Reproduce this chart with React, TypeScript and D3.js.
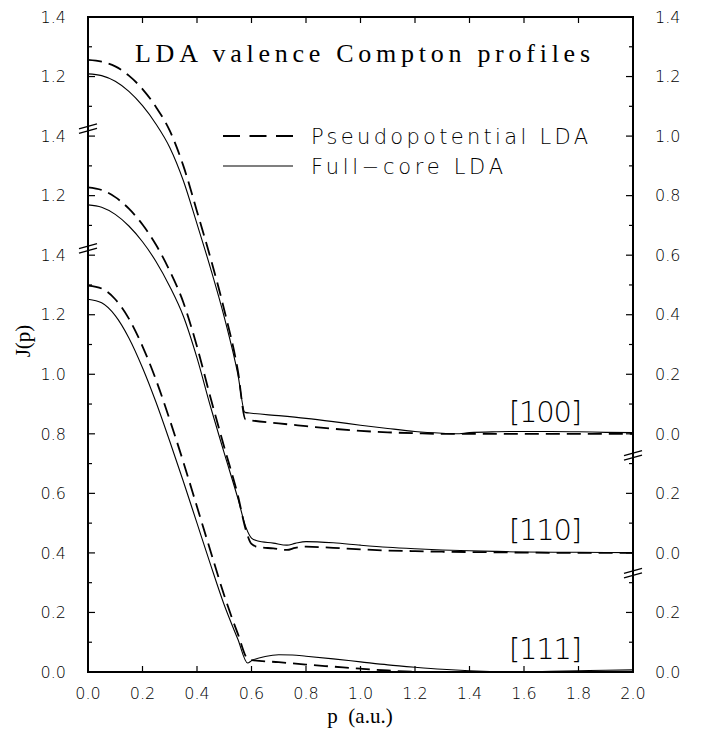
import React from 'react';
import * as d3 from 'd3';

// ---------------- data ----------------
// momentum grid + J(p) values for each direction; "Full" = full-core LDA (solid), "Pseudo" = pseudopotential LDA (dashed)
const pFull100 = [0, 0.05, 0.1, 0.15, 0.2, 0.25, 0.3, 0.35, 0.4, 0.45, 0.5, 0.55, 0.576, 0.6, 0.7, 0.8, 0.9, 1.0, 1.1, 1.2, 1.3, 1.35, 1.4, 1.5, 1.6, 1.7, 1.8, 1.9, 2.0];
const jFull100 = [1.209, 1.203, 1.184, 1.150, 1.102, 1.040, 0.962, 0.850, 0.705, 0.555, 0.392, 0.200, 0.072, 0.069, 0.061, 0.052, 0.041, 0.029, 0.018, 0.008, 0.002, 0.000, 0.004, 0.007, 0.008, 0.008, 0.007, 0.005, 0.004];
const pPseudo100 = [0, 0.05, 0.1, 0.15, 0.2, 0.25, 0.3, 0.35, 0.4, 0.45, 0.5, 0.55, 0.578, 0.6, 0.7, 0.8, 0.9, 1.0, 1.1, 1.2, 1.3, 1.4, 1.6, 1.8, 2.0];
const jPseudo100 = [1.256, 1.250, 1.234, 1.203, 1.158, 1.097, 1.018, 0.900, 0.747, 0.589, 0.416, 0.212, 0.048, 0.045, 0.035, 0.026, 0.017, 0.010, 0.005, 0.002, 0.000, 0.000, 0.000, 0.000, 0.000];

const pFull110 = [0, 0.05, 0.1, 0.15, 0.2, 0.25, 0.3, 0.35, 0.4, 0.45, 0.5, 0.55, 0.58, 0.6, 0.62, 0.68, 0.73, 0.76, 0.8, 0.9, 1.0, 1.1, 1.2, 1.3, 1.4, 1.5, 1.6, 1.8, 2.0];
const jFull110 = [1.169, 1.161, 1.137, 1.098, 1.045, 0.978, 0.895, 0.795, 0.655, 0.490, 0.335, 0.183, 0.085, 0.050, 0.041, 0.033, 0.026, 0.032, 0.038, 0.034, 0.026, 0.019, 0.014, 0.010, 0.007, 0.005, 0.003, 0.002, 0.001];
const pPseudo110 = [0, 0.05, 0.1, 0.15, 0.2, 0.25, 0.3, 0.35, 0.4, 0.45, 0.5, 0.55, 0.58, 0.6, 0.62, 0.68, 0.73, 0.76, 0.8, 0.9, 1.0, 1.1, 1.2, 1.3, 1.4, 1.5, 1.6, 1.8, 2.0];
const jPseudo110 = [1.228, 1.219, 1.195, 1.156, 1.103, 1.034, 0.947, 0.841, 0.693, 0.520, 0.355, 0.193, 0.075, 0.030, 0.021, 0.015, 0.010, 0.017, 0.021, 0.017, 0.012, 0.008, 0.006, 0.004, 0.003, 0.002, 0.001, 0.000, 0.000];

const pFull111 = [0, 0.05, 0.1, 0.15, 0.2, 0.25, 0.3, 0.35, 0.4, 0.45, 0.5, 0.55, 0.586, 0.6, 0.65, 0.7, 0.75, 0.8, 0.9, 1.0, 1.1, 1.2, 1.3, 1.4, 1.5, 1.6, 1.7, 1.8, 1.9, 2.0];
const jFull111 = [1.252, 1.240, 1.197, 1.122, 1.022, 0.905, 0.775, 0.640, 0.500, 0.360, 0.225, 0.110, 0.030, 0.038, 0.052, 0.058, 0.057, 0.053, 0.044, 0.034, 0.024, 0.016, 0.009, 0.004, 0.001, 0.000, 0.002, 0.004, 0.006, 0.007];
const pPseudo111 = [0, 0.05, 0.1, 0.15, 0.2, 0.25, 0.3, 0.35, 0.4, 0.45, 0.5, 0.55, 0.588, 0.6, 0.7, 0.8, 0.9, 1.0, 1.1, 1.2, 1.3, 1.4, 1.6, 1.8, 2.0];
const jPseudo111 = [1.298, 1.288, 1.252, 1.187, 1.094, 0.980, 0.847, 0.705, 0.555, 0.405, 0.257, 0.128, 0.042, 0.040, 0.033, 0.025, 0.018, 0.011, 0.005, 0.001, 0.000, 0.000, 0.000, 0.000, 0.000];

// vertical offsets of the three stacked panels (in axis units)
const panelNames = ['[100]', '[110]', '[111]'];
const panelOffsets = [0.8, 0.4, 0.0];

// axis ticks and labels
const xTickValues = [0, 0.2, 0.4, 0.6, 0.8, 1.0, 1.2, 1.4, 1.6, 1.8, 2.0];
const xTickLabels = ['0.0', '0.2', '0.4', '0.6', '0.8', '1.0', '1.2', '1.4', '1.6', '1.8', '2.0'];
const yMajorValues = [0, 0.2, 0.4, 0.6, 0.8, 1.0, 1.2, 1.4, 1.6, 1.8, 2.0, 2.2];
const leftTickLabels = ['0.0', '0.2', '0.4', '0.6', '0.8', '1.0', '1.2', '1.4', '1.2', '1.4', '1.2', '1.4'];
const rightTickLabels = ['0.0', '0.2', '0.0', '0.2', '0.0', '0.2', '0.4', '0.6', '0.8', '1.0', '1.2', '1.4'];
const leftBreaks = [1.425, 1.828];
const rightBreaks = [0.335, 0.73];

const titleText = 'LDA valence Compton profiles';
const legendPseudo = 'Pseudopotential LDA';
const legendFull = 'Full\u2212core LDA';

// ---------------- layout ----------------
const W = 701;
const H = 739;
const M = { left: 88, right: 633, top: 17, bottom: 672 };

const SANS = "'DejaVu Sans', 'Liberation Sans', Arial, sans-serif";
const SERIF = "'Liberation Serif', 'DejaVu Serif', serif";

export default function App() {
  const x = d3.scaleLinear().domain([0, 2]).range([M.left, M.right]);
  const y = d3.scaleLinear().domain([0, 2.2]).range([M.bottom, M.top]);

  const makePath = (ps: number[], js: number[], off: number) => {
    const pts: [number, number][] = ps.map((p, i) => [p, js[i] + off]);
    return d3
      .line<[number, number]>()
      .x((d) => x(d[0]))
      .y((d) => y(d[1]))
      .curve(d3.curveMonotoneX)(pts) as string;
  };

  const series = [
    { p: pFull100, j: jFull100, off: panelOffsets[0], dashed: false },
    { p: pPseudo100, j: jPseudo100, off: panelOffsets[0], dashed: true },
    { p: pFull110, j: jFull110, off: panelOffsets[1], dashed: false },
    { p: pPseudo110, j: jPseudo110, off: panelOffsets[1], dashed: true },
    { p: pFull111, j: jFull111, off: panelOffsets[2], dashed: false },
    { p: pPseudo111, j: jPseudo111, off: panelOffsets[2], dashed: true },
  ];

  const yMinor = d3.range(0, 22).map((i) => i * 0.1 + 0.1).filter((v, i) => i % 2 === 0);
  const labelBaselines = [422, 540, 659];

  const breakMark = (cx: number, cy: number, k: string) => (
    <g key={k} stroke="#000" strokeWidth={1.3}>
      <line x1={cx - 9} y1={cy + 1} x2={cx + 9} y2={cy - 4} />
      <line x1={cx - 9} y1={cy + 5.5} x2={cx + 9} y2={cy + 0.5} />
    </g>
  );

  return (
    <svg
      width={W}
      height={H}
      viewBox={`0 0 ${W} ${H}`}
      style={{ position: 'absolute', left: 0, top: 0, background: '#fff' }}
    >
      <rect x={0} y={0} width={W} height={H} fill="#fff" />

      {/* curves */}
      <g fill="none" stroke="#000">
        {series.map((s, i) => (
          <path
            key={i}
            d={makePath(s.p, s.j, s.off)}
            strokeWidth={s.dashed ? 1.8 : 1.1}
            strokeDasharray={s.dashed ? '14,7' : undefined}
          />
        ))}
      </g>

      {/* frame */}
      <rect
        x={M.left}
        y={M.top}
        width={M.right - M.left}
        height={M.bottom - M.top}
        fill="none"
        stroke="#000"
        strokeWidth={2}
      />

      {/* ticks */}
      <g stroke="#000" strokeWidth={1.2}>
        {yMajorValues.map((v, i) => (
          <g key={'ym' + i}>
            <line x1={M.left} x2={M.left + 7} y1={y(v)} y2={y(v)} />
            <line x1={M.right} x2={M.right - 7} y1={y(v)} y2={y(v)} />
          </g>
        ))}
        {yMinor.map((v, i) => (
          <g key={'yn' + i}>
            <line x1={M.left} x2={M.left + 4} y1={y(v)} y2={y(v)} />
            <line x1={M.right} x2={M.right - 4} y1={y(v)} y2={y(v)} />
          </g>
        ))}
        {xTickValues.map((v, i) => (
          <g key={'xt' + i}>
            <line x1={x(v)} x2={x(v)} y1={M.bottom} y2={M.bottom - 6} />
            <line x1={x(v)} x2={x(v)} y1={M.top} y2={M.top + 6} />
          </g>
        ))}
      </g>

      {/* axis breaks */}
      {leftBreaks.map((v, i) => breakMark(M.left, y(v), 'lb' + i))}
      {rightBreaks.map((v, i) => breakMark(M.right, y(v), 'rb' + i))}

      {/* tick labels */}
      <g fontFamily={SANS} fontSize={16} fontWeight={200} fill="#000">
        {yMajorValues.map((v, i) => (
          <text key={'l' + i} x={66} y={y(v)} dy="0.36em" textAnchor="end">
            {leftTickLabels[i]}
          </text>
        ))}
        {yMajorValues.map((v, i) => (
          <text key={'r' + i} x={655} y={y(v)} dy="0.36em" textAnchor="start">
            {rightTickLabels[i]}
          </text>
        ))}
        {xTickValues.map((v, i) => (
          <text key={'x' + i} x={x(v)} y={699} textAnchor="middle">
            {xTickLabels[i]}
          </text>
        ))}
      </g>

      {/* axis titles */}
      <text
        x={360}
        y={723}
        textAnchor="middle"
        fontFamily={SERIF}
        fontSize={21}
        fill="#000"
        style={{ whiteSpace: 'pre' }}
      >
        {'p  (a.u.)'}
      </text>
      <text
        transform={`translate(30,341) rotate(-90)`}
        textAnchor="middle"
        fontFamily={SERIF}
        fontSize={21}
        fill="#000"
      >
        J(p)
      </text>

      {/* title */}
      <text
        x={135}
        y={62}
        fontFamily={SERIF}
        fontSize={26}
        fill="#000"
        textLength={455}
        lengthAdjust="spacing"
      >
        {titleText}
      </text>

      {/* legend */}
      <g stroke="#000">
        <line x1={223} x2={293} y1={136} y2={136} strokeWidth={1.8} strokeDasharray="17,9.5" />
        <line x1={223} x2={293} y1={166} y2={166} strokeWidth={1.1} />
      </g>
      <g fontFamily={SANS} fontSize={21} fontWeight={200} fill="#000">
        <text x={311} y={144} textLength={277} lengthAdjust="spacing">
          {legendPseudo}
        </text>
        <text x={311} y={174} textLength={192} lengthAdjust="spacing">
          {legendFull}
        </text>
      </g>

      {/* panel labels */}
      <g fontFamily={SANS} fontSize={29} fontWeight={200} fill="#000">
        {panelNames.map((n, i) => (
          <text key={n} x={509} y={labelBaselines[i]} textLength={73} lengthAdjust="spacing">
            {n}
          </text>
        ))}
      </g>
    </svg>
  );
}
